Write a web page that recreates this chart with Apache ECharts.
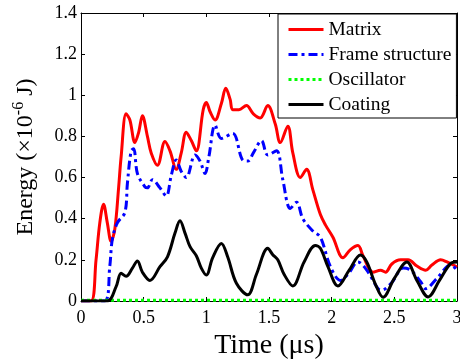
<!DOCTYPE html>
<html>
<head>
<meta charset="utf-8">
<script src="https://cdn.jsdelivr.net/npm/echarts@6/dist/echarts.min.js"></script>
<style>
  html, body { margin: 0; padding: 0; background: #fff; }
  #chart { width: 460px; height: 362px; }
</style>
</head>
<body>
<div id="chart"></div>
<script>
// Energy histories, [time (µs), energy (×10^-6 J)]
const matrixPoints = [
  [0, 0], [0.08, 0], [0.12, 0.2], [0.15, 0.38], [0.18, 0.47], [0.21, 0.38], [0.24, 0.29],
  [0.27, 0.35], [0.30, 0.55], [0.32, 0.70], [0.36, 0.91], [0.39, 0.88], [0.43, 0.77],
  [0.46, 0.82], [0.49, 0.90], [0.53, 0.80], [0.56, 0.72], [0.61, 0.66], [0.67, 0.775],
  [0.71, 0.73], [0.76, 0.64], [0.80, 0.72], [0.84, 0.82], [0.88, 0.78], [0.92, 0.73],
  [0.975, 0.93], [1.0, 0.965], [1.03, 0.92], [1.07, 0.88], [1.12, 0.96], [1.155, 1.034],
  [1.19, 0.98], [1.21, 0.93], [1.26, 0.93], [1.32, 0.95], [1.375, 0.91], [1.43, 0.89],
  [1.49, 0.95], [1.55, 0.86], [1.59, 0.77], [1.65, 0.85], [1.69, 0.72], [1.75, 0.60],
  [1.80, 0.64], [1.85, 0.54], [1.91, 0.42], [1.95, 0.37], [2.01, 0.31], [2.09, 0.21],
  [2.15, 0.25], [2.21, 0.27], [2.25, 0.22], [2.33, 0.14], [2.39, 0.15], [2.43, 0.14],
  [2.48, 0.18], [2.55, 0.20], [2.61, 0.20], [2.68, 0.17], [2.75, 0.15], [2.80, 0.175],
  [2.87, 0.20], [2.92, 0.19], [2.97, 0.175], [3.0, 0.165]
];
const framePoints = [
  [0, 0], [0.19, 0], [0.23, 0.17], [0.25, 0.30], [0.29, 0.38], [0.35, 0.43], [0.37, 0.57],
  [0.40, 0.73], [0.42, 0.74], [0.45, 0.62], [0.51, 0.555], [0.53, 0.55], [0.57, 0.59],
  [0.63, 0.55], [0.68, 0.51], [0.72, 0.61], [0.76, 0.685], [0.80, 0.63], [0.84, 0.60],
  [0.91, 0.71], [0.95, 0.68], [0.99, 0.62], [1.02, 0.70], [1.07, 0.855], [1.12, 0.79],
  [1.21, 0.815], [1.29, 0.685], [1.33, 0.68], [1.375, 0.72], [1.44, 0.78], [1.49, 0.71],
  [1.56, 0.73], [1.61, 0.59], [1.67, 0.45], [1.72, 0.48], [1.77, 0.40], [1.85, 0.34],
  [1.91, 0.31], [1.99, 0.167], [2.07, 0.10], [2.13, 0.13], [2.21, 0.19], [2.28, 0.15],
  [2.37, 0.06], [2.40, 0.053], [2.48, 0.09], [2.57, 0.16], [2.63, 0.15], [2.71, 0.094],
  [2.75, 0.06], [2.84, 0.11], [2.95, 0.175], [3.0, 0.15]
];
const oscillatorPoints = [
  [0, 0.004], [0.5, 0.004], [1.0, 0.004], [1.5, 0.004], [2.0, 0.004], [2.5, 0.004], [3.0, 0.004]
];
const coatingPoints = [
  [0, 0], [0.21, 0], [0.28, 0.07], [0.32, 0.135], [0.36, 0.12], [0.41, 0.16], [0.45, 0.195],
  [0.49, 0.14], [0.55, 0.10], [0.63, 0.167], [0.69, 0.215], [0.75, 0.33], [0.79, 0.39],
  [0.83, 0.33], [0.87, 0.264], [0.92, 0.22], [0.96, 0.16], [1.0, 0.126], [1.05, 0.21],
  [1.12, 0.28], [1.17, 0.215], [1.24, 0.086], [1.33, 0.03], [1.40, 0.13], [1.49, 0.256],
  [1.53, 0.225], [1.57, 0.20], [1.62, 0.13], [1.69, 0.073], [1.78, 0.19], [1.87, 0.27],
  [1.91, 0.256], [1.97, 0.167], [2.05, 0.073], [2.14, 0.15], [2.23, 0.224], [2.28, 0.19],
  [2.35, 0.08], [2.41, 0.018], [2.50, 0.11], [2.60, 0.19], [2.68, 0.10], [2.77, 0.02],
  [2.86, 0.10], [2.95, 0.183], [3.0, 0.19]
];

const seriesNames = ['Matrix', 'Frame structure', 'Oscillator', 'Coating'];
const xTicks = { min: 0, max: 3, interval: 0.5 };
const yTicks = { min: 0, max: 1.4, interval: 0.2 };

const serif = '"Liberation Serif", "Times New Roman", serif';

function frameAxis(extra) {
  return Object.assign({
    type: 'value',
    axisLine: { show: true, onZero: false, lineStyle: { color: '#000', width: 1 } },
    axisTick: { show: true, inside: true, length: 4, lineStyle: { color: '#000' } },
    splitLine: { show: false }
  }, extra);
}

const chart = echarts.init(document.getElementById('chart'), null, { renderer: 'canvas' });

chart.setOption({
  animation: false,
  backgroundColor: '#fff',
  grid: { left: 81, right: 3, top: 13, bottom: 61, outerBoundsMode: 'none', containLabel: false },
  legend: {
    orient: 'vertical',
    left: 278,
    top: 14,
    padding: [5, 5, 3, 9],
    itemGap: 4,
    itemWidth: 35,
    itemHeight: 14,
    backgroundColor: '#fff',
    borderColor: '#000',
    borderWidth: 1,
    borderRadius: 0,
    data: seriesNames,
    // line-only keys: hide the marker the line icon carries
    itemStyle: { opacity: 0, borderWidth: 0 },
    lineStyle: { width: 3 },
    textStyle: { fontFamily: serif, fontSize: 19.5, color: '#000', lineHeight: 21 }
  },
  xAxis: [
    frameAxis(Object.assign({
      position: 'bottom',
      name: 'Time (μs)',
      nameLocation: 'middle',
      nameGap: 30,
      nameTextStyle: { fontFamily: serif, fontSize: 28, color: '#000' },
      axisLabel: { color: '#000', fontFamily: serif, fontSize: 18, margin: 8 }
    }, xTicks)),
    frameAxis(Object.assign({ position: 'top', axisLabel: { show: false } }, xTicks))
  ],
  yAxis: [
    frameAxis(Object.assign({
      position: 'left',
      name: '{n|Energy (×10}{s|-6}{n| J)}',
      nameLocation: 'middle',
      nameGap: 40,
      nameTextStyle: {
        color: '#000',
        rich: {
          n: { fontFamily: serif, fontSize: 24, lineHeight: 30, color: '#000' },
          s: { fontFamily: serif, fontSize: 16, lineHeight: 16, verticalAlign: 'top', color: '#000' }
        }
      },
      axisLabel: { color: '#000', fontFamily: serif, fontSize: 18, margin: 4 }
    }, yTicks)),
    frameAxis(Object.assign({ position: 'right', axisLabel: { show: false } }, yTicks))
  ],
  series: [
    {
      name: seriesNames[0], type: 'line', data: matrixPoints, smooth: 0.35,
      symbol: 'none', z: 2,
      lineStyle: { color: '#ff0000', width: 3 }, itemStyle: { color: '#ff0000' }
    },
    {
      name: seriesNames[1], type: 'line', data: framePoints, smooth: 0.35,
      symbol: 'none', z: 3,
      lineStyle: { color: '#0000ff', width: 3, type: [9, 4, 3, 4] }, itemStyle: { color: '#0000ff' }
    },
    {
      name: seriesNames[2], type: 'line', data: oscillatorPoints,
      symbol: 'none', z: 4,
      lineStyle: { color: '#00ff00', width: 3, type: [3, 3] }, itemStyle: { color: '#00ff00' }
    },
    {
      name: seriesNames[3], type: 'line', data: coatingPoints, smooth: 0.35,
      symbol: 'none', z: 5,
      lineStyle: { color: '#000000', width: 3 }, itemStyle: { color: '#000000' }
    }
  ]
});
</script>
</body>
</html>
